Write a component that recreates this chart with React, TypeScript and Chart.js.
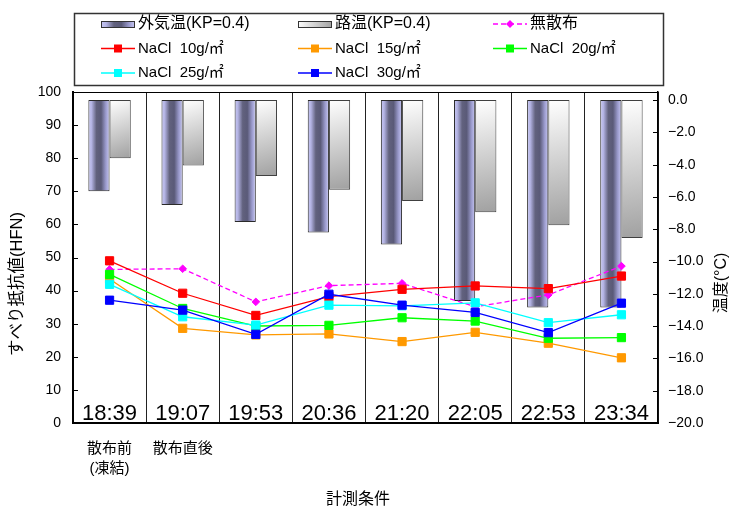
import { useEffect, useRef } from 'react';
import { Chart, registerables } from 'chart.js';

Chart.register(...registerables);

// Measurement times (category axis)
const categories = ['18:39', '19:07', '19:53', '20:36', '21:20', '22:05', '22:53', '23:34'];
// Phase notes printed under the first two measurements
const phaseNotes: string[][] = [['散布前', '(凍結)'], ['散布直後'], [], [], [], [], [], []];

// Temperatures (°C), right axis
const airTemp = [-5.65, -6.5, -7.55, -8.2, -8.95, -12.45, -12.85, -12.85];
const roadTemp = [-3.6, -4.05, -4.7, -5.55, -6.25, -6.95, -7.75, -8.55];

// Skid resistance (HFN), left axis
const noSpread = [46.4, 46.6, 36.6, 41.5, 42.2, 35.1, 38.7, 47.4];
const nacl10 = [49.0, 39.2, 32.5, 38.2, 40.4, 41.4, 40.6, 44.4];
const nacl15 = [43.5, 28.6, 26.6, 26.9, 24.6, 27.4, 24.1, 19.7];
const nacl20 = [44.9, 34.6, 29.3, 29.5, 31.8, 30.8, 25.6, 25.8];
const nacl25 = [41.9, 32.1, 29.6, 35.6, 35.4, 36.3, 30.3, 32.7];
const nacl30 = [37.1, 34.1, 26.8, 38.9, 35.6, 33.4, 27.3, 36.2];

// Axis ticks
const hfnTicks = [0, 10, 20, 30, 40, 50, 60, 70, 80, 90, 100];
const tempTicks = [-20, -18, -16, -14, -12, -10, -8, -6, -4, -2, 0];

const FONT = '"Liberation Sans", Arial, "Noto Sans CJK JP", sans-serif';
const CAT_PCT = 0.58;

const ok = (...v: number[]) => v.every((n) => Number.isFinite(n));

function airFill(g2: CanvasRenderingContext2D, x0: number, x1: number) {
  const g = g2.createLinearGradient(x0, 0, x1, 0);
  g.addColorStop(0, '#c8c8f4');
  g.addColorStop(0.15, '#b4b4e4');
  g.addColorStop(0.38, '#62627e');
  g.addColorStop(0.6, '#5a5a78');
  g.addColorStop(0.82, '#9a9acc');
  g.addColorStop(1, '#c8c8f4');
  return g;
}

function roadFill(g2: CanvasRenderingContext2D, x0: number, y0: number, x1: number, y1: number) {
  const g = g2.createLinearGradient(x0, y0, x1, y1);
  g.addColorStop(0, '#ffffff');
  g.addColorStop(1, '#a0a0a0');
  return g;
}

function barBox(chart: any, index: number, second: boolean) {
  const xs = chart.scales.x;
  const cx = xs.getPixelForValue(index);
  const w = (xs.width / categories.length) * CAT_PCT / 2;
  return second ? [cx, cx + w] : [cx - w, cx];
}

const lineSeries = [
  { label: 'NaCl  10g/㎡', data: nacl10, color: '#FF0000' },
  { label: 'NaCl  15g/㎡', data: nacl15, color: '#FF9900' },
  { label: 'NaCl  20g/㎡', data: nacl20, color: '#00FF00' },
  { label: 'NaCl  25g/㎡', data: nacl25, color: '#00FFFF' },
  { label: 'NaCl  30g/㎡', data: nacl30, color: '#0000FF' },
];

const decorations = {
  id: 'decorations',
  afterDraw(chart: any) {
    const { ctx, chartArea: a, scales } = chart;
    const xs = scales.x, ys = scales.y, ts = scales.y1;
    ctx.save();

    // top frame line
    ctx.strokeStyle = '#000';
    ctx.lineWidth = 1;
    ctx.beginPath();
    ctx.moveTo(a.left, a.top + 0.5);
    ctx.lineTo(a.right, a.top + 0.5);
    ctx.stroke();

    // inward tick marks
    ctx.beginPath();
    ys.ticks.forEach((t: any) => {
      const y = Math.round(ys.getPixelForValue(t.value)) + 0.5;
      ctx.moveTo(a.left, y);
      ctx.lineTo(a.left + 5, y);
    });
    ts.ticks.forEach((t: any) => {
      const y = Math.round(ts.getPixelForValue(t.value)) + 0.5;
      ctx.moveTo(a.right - 5, y);
      ctx.lineTo(a.right, y);
    });
    ctx.stroke();

    // time labels inside the plot
    ctx.fillStyle = '#000';
    ctx.font = `22px ${FONT}`;
    ctx.textAlign = 'center';
    ctx.textBaseline = 'alphabetic';
    chart.data.labels.forEach((c: string, i: number) => {
      ctx.fillText(c, xs.getPixelForValue(i), a.bottom - 3);
    });

    // phase notes below the axis
    ctx.font = `15px ${FONT}`;
    ctx.textBaseline = 'middle';
    phaseNotes.forEach((lines, i) => {
      lines.forEach((s, j) => ctx.fillText(s, xs.getPixelForValue(i), a.bottom + 26 + j * 20));
    });

    // axis titles
    ctx.font = `16px ${FONT}`;
    ctx.fillText('計測条件', a.left + 285, a.bottom + 77);

    ctx.save();
    ctx.translate(17, 284);
    ctx.rotate(-Math.PI / 2);
    ctx.font = `16.5px ${FONT}`;
    ctx.fillText('すべり抵抗値(HFN)', 0, 0);
    ctx.restore();

    ctx.save();
    ctx.translate(a.right + 64, 283);
    ctx.rotate(-Math.PI / 2);
    ctx.fillText('温度(°C)', 0, 0);
    ctx.restore();

    // legend
    const lx = 74, ly = 13, lw = 589, lh = 72;
    ctx.fillStyle = '#fff';
    ctx.fillRect(lx, ly, lw, lh);
    ctx.strokeStyle = '#333';
    ctx.lineWidth = 1.5;
    ctx.strokeRect(lx + 0.5, ly + 0.5, lw, lh);

    const cols = [101, 298, 493];
    const rows = [24, 48.5, 73];
    const symW = 34;
    ctx.textAlign = 'left';
    ctx.textBaseline = 'middle';
    chart.data.datasets.forEach((ds: any, k: number) => {
      const x = cols[k % 3];
      const y = rows[Math.floor(k / 3)];
      if (ds.type === 'bar') {
        ctx.fillStyle = k === 0 ? airFill(ctx, x, x + symW) : roadFill(ctx, x, y - 3, x + symW, y + 4);
        ctx.fillRect(x, y - 3, symW, 7);
        ctx.strokeStyle = '#333';
        ctx.lineWidth = 1;
        ctx.strokeRect(x + 0.5, y - 3 + 0.5, symW - 1, 6);
      } else {
        ctx.strokeStyle = ds.borderColor;
        ctx.lineWidth = 1.3;
        ctx.setLineDash(ds.borderDash || []);
        ctx.beginPath();
        ctx.moveTo(x, y);
        ctx.lineTo(x + symW, y);
        ctx.stroke();
        ctx.setLineDash([]);
        ctx.fillStyle = ds.borderColor;
        const cx = x + symW / 2;
        if (ds.pointStyle === 'rectRot') {
          ctx.beginPath();
          ctx.moveTo(cx - 4, y);
          ctx.lineTo(cx, y - 4);
          ctx.lineTo(cx + 4, y);
          ctx.lineTo(cx, y + 4);
          ctx.closePath();
          ctx.fill();
        } else {
          ctx.fillRect(cx - 4, y - 4, 8, 8);
        }
      }
      ctx.fillStyle = '#000';
      ctx.font = `${ds.pointStyle === 'rect' ? 15 : 16}px ${FONT}`;
      ctx.fillText(ds.label, x + symW + 3, y);
    });

    ctx.restore();
  },
};

export default function App() {
  const ref = useRef<HTMLCanvasElement>(null);

  useEffect(() => {
    const datasets: any[] = [
      {
        type: 'bar',
        label: '外気温(KP=0.4)',
        data: airTemp,
        yAxisID: 'y1',
        order: 20,
        barPercentage: 1,
        categoryPercentage: CAT_PCT,
        borderColor: '#2a2a2a',
        borderWidth: 1,
        borderSkipped: false,
        backgroundColor: (c: any) => {
          if (c.dataIndex == null || !c.chart.scales.x) return '#8888aa';
          const [x0, x1] = barBox(c.chart, c.dataIndex, false);
          if (!ok(x0, x1) || x1 <= x0) return '#8888aa';
          return airFill(c.chart.ctx, x0, x1);
        },
      },
      {
        type: 'bar',
        label: '路温(KP=0.4)',
        data: roadTemp,
        yAxisID: 'y1',
        order: 20,
        barPercentage: 1,
        categoryPercentage: CAT_PCT,
        borderColor: '#404040',
        borderWidth: 1,
        borderSkipped: false,
        backgroundColor: (c: any) => {
          if (c.dataIndex == null || !c.chart.scales.x || !c.chart.scales.y1) return '#d0d0d0';
          const [x0, x1] = barBox(c.chart, c.dataIndex, true);
          const ts = c.chart.scales.y1;
          const y0 = ts.getPixelForValue(0);
          const y1 = ts.getPixelForValue(roadTemp[c.dataIndex]);
          if (!ok(x0, x1, y0, y1) || x1 <= x0) return '#d0d0d0';
          return roadFill(c.chart.ctx, x0, y0, x1, y1);
        },
      },
      {
        type: 'line',
        label: '無散布',
        data: noSpread,
        yAxisID: 'y',
        order: 6,
        borderColor: '#FF00FF',
        backgroundColor: '#FF00FF',
        borderWidth: 1.3,
        borderDash: [5, 3],
        pointStyle: 'rectRot',
        pointRadius: 3.8,
        pointBorderWidth: 1,
        tension: 0,
        fill: false,
      },
      ...lineSeries.map((s, i) => ({
        type: 'line',
        label: s.label,
        data: s.data,
        yAxisID: 'y',
        order: 5 - i,
        borderColor: s.color,
        backgroundColor: s.color,
        borderWidth: 1.3,
        pointStyle: 'rect',
        pointRadius: 5.8,
        pointBorderWidth: 1,
        tension: 0,
        fill: false,
      })),
    ];

    const chart = new Chart(ref.current as HTMLCanvasElement, {
      type: 'bar',
      data: { labels: categories, datasets },
      options: {
        responsive: false,
        animation: false,
        devicePixelRatio: 1,
        layout: { padding: { top: 92, left: 0, right: 0, bottom: 0 } },
        plugins: { legend: { display: false }, tooltip: { enabled: false } },
        scales: {
          x: {
            type: 'category',
            offset: true,
            grid: { offset: true, color: '#222', lineWidth: 1, drawTicks: false },
            border: { color: '#000', width: 2 },
            ticks: { display: false },
            afterFit: (s: any) => { s.height = 84; },
          },
          y: {
            type: 'linear',
            position: 'left',
            min: 0,
            max: 100,
            afterBuildTicks: (s: any) => { s.ticks = hfnTicks.map((v) => ({ value: v })); },
            grid: { display: false, drawTicks: false },
            border: { color: '#000', width: 2 },
            ticks: { padding: 12, color: '#000', font: { family: FONT, size: 14 } },
            afterFit: (s: any) => { s.width = 73; },
          },
          y1: {
            type: 'linear',
            position: 'right',
            min: -20,
            max: 0.5,
            afterBuildTicks: (s: any) => { s.ticks = tempTicks.map((v) => ({ value: v })); },
            grid: { display: false, drawTicks: false },
            border: { color: '#000', width: 1.5 },
            ticks: {
              padding: 10,
              color: '#000',
              font: { family: FONT, size: 14 },
              callback: (v: any) => Number(v).toFixed(1).replace('-', '−'),
            },
            afterFit: (s: any) => { s.width = 78; },
          },
        },
      },
      plugins: [decorations],
    } as any);

    return () => chart.destroy();
  }, []);

  return (
    <div style={{ position: 'fixed', left: 0, top: 0, width: 736, height: 507, background: '#fff' }}>
      <canvas ref={ref} width={736} height={507} style={{ display: 'block', width: 736, height: 507 }} />
    </div>
  );
}
